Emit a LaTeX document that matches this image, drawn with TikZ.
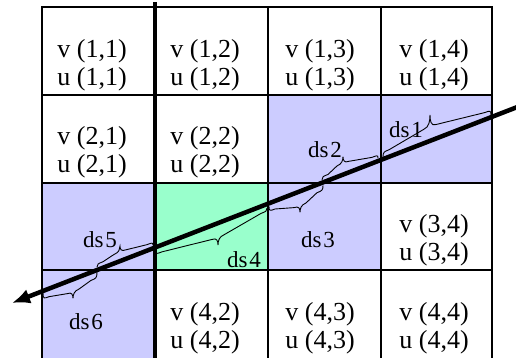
\documentclass[tikz,border=0pt]{standalone}
\usepackage{fontspec}
\setmainfont{Liberation Serif}
\usetikzlibrary{arrows.meta}
\definecolor{cellblue}{RGB}{204,204,255}
\definecolor{cellgreen}{RGB}{153,255,204}
% sheared brace along the ray: x1, x2, tip x, end offset, flat offset at ends, flat offset at tip, tip offset
\newcommand\slbrace[7]{%
  \draw[bracestyle] (#1,#4) .. controls (#1,#5) and ({#1+1},#5) .. ({#1+6},#5)
    -- ({#3-6},#6) .. controls ({#3-1},#6) and (#3,{0.5*(#6)+0.5*(#7)}) .. (#3,#7)
    .. controls (#3,{0.5*(#6)+0.5*(#7)}) and ({#3+1},#6) .. ({#3+6},#6)
    -- ({#2-6},#5) .. controls ({#2-1},#5) and (#2,#5) .. (#2,#4);}
\begin{document}
\begin{tikzpicture}[x=1pt,y=1pt,
  gridline/.style={line width=1.5pt,black},
  thickline/.style={line width=4.5pt,black},
  celltext/.style={font=\fontsize{26}{28}\selectfont, anchor=base, inner sep=0pt},
  dslabel/.style={font=\fontsize{23}{25}\selectfont, inner sep=0pt},
  bracestyle/.style={line width=0.9pt, black},
  rayline/.style={line width=4.5pt, -{Latex[length=18pt,width=15pt]}}]
\useasboundingbox (0,0) rectangle (516,358);
\clip (0,0) rectangle (516,358);
% fills
\fill[cellblue] (268,175) rectangle (381,263);
\fill[cellblue] (381,175) rectangle (492,263);
\fill[cellblue] (42,88) rectangle (155,175);
\fill[cellblue] (268,88) rectangle (381,175);
\fill[cellblue] (42,-5) rectangle (155,88);
\fill[cellgreen] (155,88) rectangle (268,175);
% grid
\foreach \yy in {351,263,175,88} \draw[gridline] (42,\yy) -- (492,\yy);
\foreach \xx in {42,268,381,492} \draw[gridline] (\xx,351.75) -- (\xx,-5);
\draw[thickline] (155,356) -- (155,-5);
% cell texts
\node[celltext] (v11) at (92,300) {v (1,1)};
\node[celltext] (u11) at (92,272) {u (1,1)};
\node[celltext] (v12) at (205,300) {v (1,2)};
\node[celltext] (u12) at (205,272) {u (1,2)};
\node[celltext] (v13) at (320,300) {v (1,3)};
\node[celltext] (u13) at (320,272) {u (1,3)};
\node[celltext] (v14) at (434,300) {v (1,4)};
\node[celltext] (u14) at (434,272) {u (1,4)};
\node[celltext] (v21) at (92,213) {v (2,1)};
\node[celltext] (u21) at (92,185) {u (2,1)};
\node[celltext] (v22) at (205,213) {v (2,2)};
\node[celltext] (u22) at (205,185) {u (2,2)};
\node[celltext] (v34) at (434,125) {v (3,4)};
\node[celltext] (u34) at (434,97) {u (3,4)};
\node[celltext] (v42) at (205,37) {v (4,2)};
\node[celltext] (u42) at (205,9) {u (4,2)};
\node[celltext] (v43) at (320,37) {v (4,3)};
\node[celltext] (u43) at (320,9) {u (4,3)};
\node[celltext] (v44) at (434,37) {v (4,4)};
\node[celltext] (u44) at (434,9) {u (4,4)};
% braces, in a frame sheared along the ray (ray is y=0 there)
\begin{scope}[cm={1,0.388,0,1,(0,50.3)}]
  \slbrace{383}{491}{430}{2}{7}{14}{26}
  \slbrace{322}{378}{343}{3}{6}{11}{18}
  \slbrace{269}{323}{300}{-3}{-8}{-14}{-21}
  \slbrace{156}{267}{218}{-4}{-7}{-14}{-22}
  \slbrace{97}{153}{120}{3}{6}{9}{15}
  \slbrace{43}{97}{73}{-2}{-8}{-12}{-19}
\end{scope}
% ray
\coordinate (start) at (521,252.4);
\coordinate (tip) at (12,55);
\draw[rayline] (start) -- (tip);
% labels
\node[dslabel] (ds1) at (406,228) {ds\kern2pt1};
\node[dslabel] (ds2) at (325,208) {ds\kern2pt2};
\node[dslabel] (ds3) at (318,118) {ds\kern2pt3};
\node[dslabel] (ds4) at (244,98) {ds\kern2pt4};
\node[dslabel] (ds5) at (100,118) {ds\kern2pt5};
\node[dslabel] (ds6) at (86,36) {ds\kern2pt6};
\end{tikzpicture}
\end{document}
